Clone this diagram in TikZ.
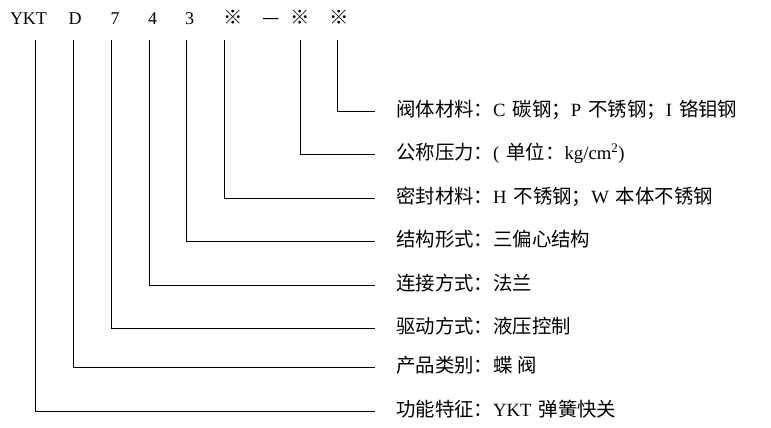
\documentclass[tikz,border=0pt]{standalone}
\usepackage{fontspec}
\setmainfont{Liberation Serif}
\newfontfamily\cjk{Noto Sans CJK SC}
\tikzset{
  code/.style={anchor=base,inner sep=0pt,font=\fontsize{18}{20}\selectfont},
  desc/.style={anchor=base west,inner sep=0pt,font=\fontsize{18.7}{20}\selectfont},
  conn/.style={line width=0.9pt},
}
\newcommand{\zh}[1]{{\cjk\fontsize{19.4}{20}\selectfont #1}}
\begin{document}
\begin{tikzpicture}[x=1pt,y=1pt]
\useasboundingbox (0,0) rectangle (771,-428);
% top code row
\node[code] (c1) at (28.5,-25) {YKT};
\node[code] (c2) at (75,-25) {D};
\node[code] (c3) at (115,-25) {7};
\node[code] (c4) at (152.5,-25) {4};
\node[code] (c5) at (189.5,-25) {3};
\node[code] (c6) at (233,-25) {\zh{※}};
\node[code] (c7) at (271.5,-25) {\zh{—}};
\node[code] (c8) at (300.5,-25) {\zh{※}};
\node[code] (c9) at (339.5,-25) {\zh{※}};
% start points of connectors
\coordinate (s1) at (35.5,-40);
\coordinate (s2) at (73.3,-40);
\coordinate (s3) at (111.3,-40);
\coordinate (s4) at (149.3,-40);
\coordinate (s5) at (186.5,-40);
\coordinate (s6) at (224.7,-40);
\coordinate (s8) at (300.8,-40);
\coordinate (s9) at (337.3,-40);
% end points
\coordinate (e9) at (375,-111);
\coordinate (e8) at (375,-154);
\coordinate (e6) at (375,-198);
\coordinate (e5) at (375,-241.5);
\coordinate (e4) at (375,-285);
\coordinate (e3) at (375,-328.3);
\coordinate (e2) at (375,-367);
\coordinate (e1) at (375,-411);
% descriptions
\node[desc] (d9) at (396,-116) {\zh{阀体材料：}C\hspace{7pt}\zh{碳钢；}P\hspace{7pt}\zh{不锈钢；}I\hspace{7pt}\zh{铬钼钢}};
\node[desc] (d8) at (396,-159) {\zh{公称压力：}(\hspace{7pt}\zh{单位：}kg/cm\textsuperscript{2})};
\node[desc] (d6) at (396,-203) {\zh{密封材料：}H\hspace{7pt}\zh{不锈钢；}W\hspace{7pt}\zh{本体不锈钢}};
\node[desc] (d5) at (396,-246.5) {\zh{结构形式：三偏心结构}};
\node[desc] (d4) at (396,-290) {\zh{连接方式：法兰}};
\node[desc] (d3) at (396,-333.3) {\zh{驱动方式：液压控制}};
\node[desc] (d2) at (396,-372) {\zh{产品类别：蝶\hspace{5pt}阀}};
\node[desc] (d1) at (396,-416) {\zh{功能特征：}YKT\hspace{7pt}\zh{弹簧快关}};
% connectors
\draw[conn] (s9) |- (e9);
\draw[conn] (s8) |- (e8);
\draw[conn] (s6) |- (e6);
\draw[conn] (s5) |- (e5);
\draw[conn] (s4) |- (e4);
\draw[conn] (s3) |- (e3);
\draw[conn] (s2) |- (e2);
\draw[conn] (s1) |- (e1);
\end{tikzpicture}
\end{document}
